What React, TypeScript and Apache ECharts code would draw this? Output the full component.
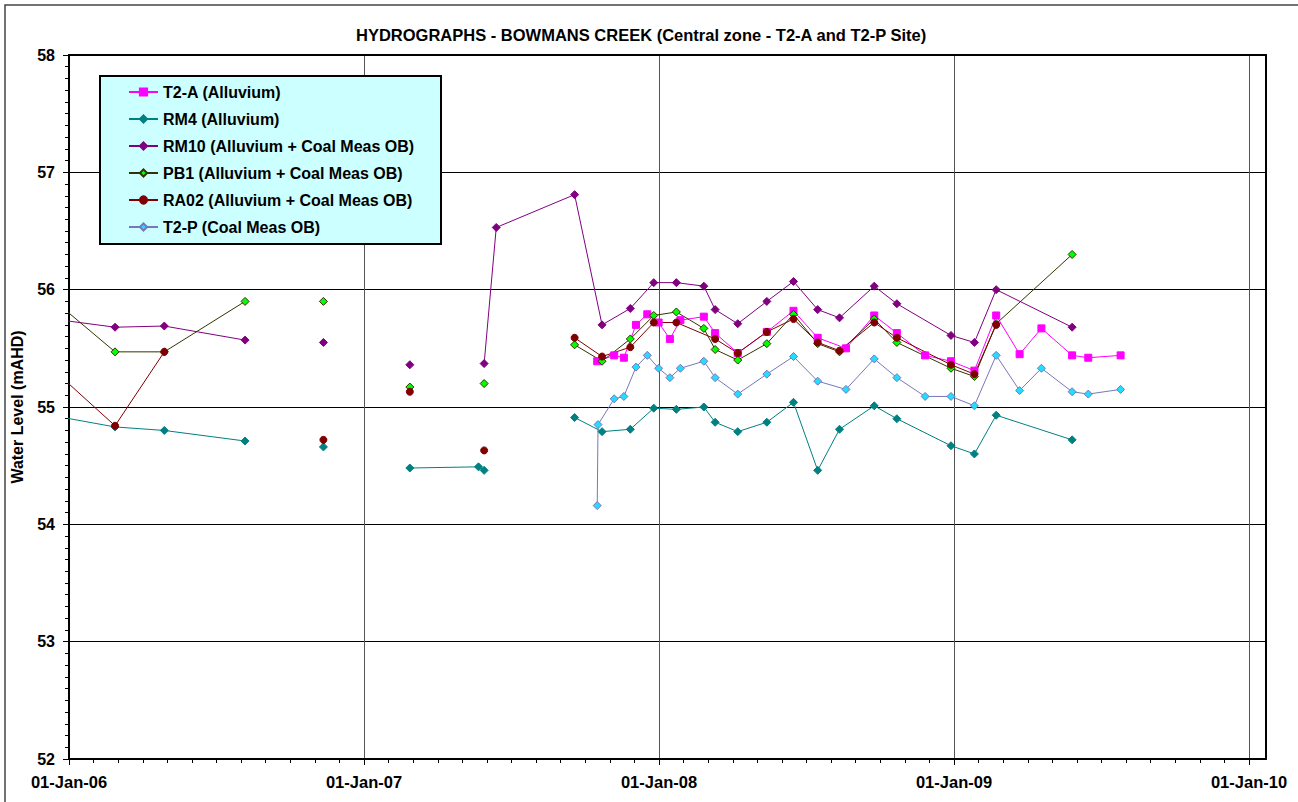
import React, { useEffect, useRef } from "react";
import * as echarts from "echarts";

const TITLE = "HYDROGRAPHS - BOWMANS CREEK (Central zone - T2-A and T2-P Site)";
const Y_NAME = "Water Level (mAHD)";
const X_START = "2006-01-01";
const X_END = "2010-01-01";
const X_TICK_LABELS = ["01-Jan-06", "01-Jan-07", "01-Jan-08", "01-Jan-09", "01-Jan-10"];
const Y_MIN = 52;
const Y_MAX = 58;
const SERIES_NAMES = [
  "T2-A (Alluvium)",
  "RM4 (Alluvium)",
  "RM10 (Alluvium + Coal Meas OB)",
  "PB1 (Alluvium + Coal Meas OB)",
  "RA02 (Alluvium + Coal Meas OB)",
  "T2-P (Coal Meas OB)",
];

type Pt = [string, number | null];

const T2A: Pt[] = [
  ["2007-10-17", 55.39], ["2007-11-07", 55.44], ["2007-11-19", 55.42], ["2007-12-04", 55.7],
  ["2007-12-18", 55.79], ["2008-01-01", 55.72], ["2008-01-15", 55.58], ["2008-01-28", 55.74],
  ["2008-02-26", 55.77], ["2008-03-11", 55.63], ["2008-04-08", 55.46], ["2008-05-14", 55.64],
  ["2008-06-16", 55.82], ["2008-07-16", 55.59], ["2008-08-20", 55.5], ["2008-09-24", 55.78],
  ["2008-10-22", 55.63], ["2008-11-26", 55.44], ["2008-12-28", 55.39], ["2009-01-26", 55.31],
  ["2009-02-22", 55.78], ["2009-03-23", 55.45], ["2009-04-19", 55.67], ["2009-05-27", 55.44],
  ["2009-06-16", 55.42], ["2009-07-26", 55.44],
];

const RM4: Pt[] = [
  ["2005-12-01", 54.94], ["2006-02-27", 54.83], ["2006-04-29", 54.8], ["2006-08-07", 54.71],
  ["2006-09-25", null], ["2006-11-12", 54.66], ["2007-01-05", null], ["2007-02-27", 54.48],
  ["2007-05-23", 54.49], ["2007-05-30", 54.46], ["2007-07-15", null], ["2007-09-19", 54.91],
  ["2007-10-23", 54.79], ["2007-11-27", 54.81], ["2007-12-26", 54.99], ["2008-01-23", 54.98],
  ["2008-02-26", 55.0], ["2008-03-11", 54.87], ["2008-04-08", 54.79], ["2008-05-14", 54.87],
  ["2008-06-16", 55.04], ["2008-07-16", 54.46], ["2008-08-12", 54.81], ["2008-09-24", 55.01],
  ["2008-10-22", 54.9], ["2008-12-28", 54.67], ["2009-01-26", 54.6], ["2009-02-22", 54.93],
  ["2009-05-27", 54.72],
];

const RM10: Pt[] = [
  ["2005-12-01", 55.76], ["2006-02-27", 55.68], ["2006-04-29", 55.69], ["2006-08-07", 55.57],
  ["2006-09-25", null], ["2006-11-12", 55.55], ["2007-01-05", null], ["2007-02-27", 55.36],
  ["2007-04-15", null], ["2007-05-30", 55.37], ["2007-06-14", 56.53], ["2007-09-19", 56.81],
  ["2007-10-23", 55.7], ["2007-11-27", 55.84], ["2007-12-26", 56.06], ["2008-01-23", 56.06],
  ["2008-02-26", 56.03], ["2008-03-11", 55.83], ["2008-04-08", 55.71], ["2008-05-14", 55.9],
  ["2008-06-16", 56.07], ["2008-07-16", 55.83], ["2008-08-12", 55.76], ["2008-09-24", 56.03],
  ["2008-10-22", 55.88], ["2008-12-28", 55.61], ["2009-01-26", 55.55], ["2009-02-22", 56.0],
  ["2009-05-27", 55.68],
];

const PB1: Pt[] = [
  ["2005-12-01", 55.98], ["2006-02-27", 55.47], ["2006-04-29", 55.47], ["2006-08-07", 55.9],
  ["2006-09-25", null], ["2006-11-12", 55.9], ["2007-01-05", null], ["2007-02-27", 55.17],
  ["2007-04-15", null], ["2007-05-30", 55.2], ["2007-07-15", null], ["2007-09-19", 55.53],
  ["2007-10-23", 55.39], ["2007-11-27", 55.58], ["2007-12-26", 55.78], ["2008-01-23", 55.81],
  ["2008-02-26", 55.67], ["2008-03-11", 55.49], ["2008-04-08", 55.4], ["2008-05-14", 55.54],
  ["2008-06-16", 55.79], ["2008-07-16", 55.54], ["2008-08-12", 55.47], ["2008-09-24", 55.75],
  ["2008-10-22", 55.55], ["2008-12-28", 55.33], ["2009-01-26", 55.26], ["2009-02-22", 55.71],
  ["2009-05-27", 56.3],
];

const RA02: Pt[] = [
  ["2005-12-01", 55.39], ["2006-02-27", 54.84], ["2006-04-29", 55.47], ["2006-08-07", null],
  ["2006-11-12", 54.72], ["2007-01-05", null], ["2007-02-27", 55.13], ["2007-04-15", null],
  ["2007-05-30", 54.63], ["2007-07-15", null], ["2007-09-19", 55.59], ["2007-10-23", 55.43],
  ["2007-11-27", 55.51], ["2007-12-26", 55.72], ["2008-01-23", 55.72], ["2008-03-11", 55.58],
  ["2008-04-08", 55.46], ["2008-05-14", 55.64], ["2008-06-16", 55.75], ["2008-07-16", 55.55],
  ["2008-08-12", 55.48], ["2008-09-24", 55.72], ["2008-10-22", 55.59], ["2008-12-28", 55.36],
  ["2009-01-26", 55.28], ["2009-02-22", 55.7],
];

const T2P: Pt[] = [
  ["2007-10-17", 54.16], ["2007-10-18", 54.85], ["2007-11-07", 55.07], ["2007-11-19", 55.09],
  ["2007-12-04", 55.34], ["2007-12-18", 55.44], ["2008-01-01", 55.33], ["2008-01-15", 55.25],
  ["2008-01-28", 55.33], ["2008-02-26", 55.39], ["2008-03-11", 55.25], ["2008-04-08", 55.11],
  ["2008-05-14", 55.28], ["2008-06-16", 55.43], ["2008-07-16", 55.22], ["2008-08-20", 55.15],
  ["2008-09-24", 55.41], ["2008-10-22", 55.25], ["2008-11-26", 55.09], ["2008-12-28", 55.09],
  ["2009-01-26", 55.01], ["2009-02-22", 55.44], ["2009-03-23", 55.14], ["2009-04-19", 55.33],
  ["2009-05-27", 55.13], ["2009-06-16", 55.11], ["2009-07-26", 55.15],
];

const SERIES_DATA = [T2A, RM4, RM10, PB1, RA02, T2P];

const STYLES = [
  { line: "#FF00FF", fill: "#FF00FF", border: "#FF00FF", symbol: "rect", size: 7 },
  { line: "#008080", fill: "#008080", border: "#008080", symbol: "diamond", size: 8 },
  { line: "#800080", fill: "#800080", border: "#800080", symbol: "diamond", size: 8 },
  { line: "#333300", fill: "#00FF00", border: "#333300", symbol: "diamond", size: 8 },
  { line: "#800000", fill: "#800000", border: "#800000", symbol: "circle", size: 7 },
  { line: "#7777BB", fill: "#22DDFF", border: "#7777BB", symbol: "diamond", size: 8 },
];

const FONT = '"Liberation Sans", Arial, Helvetica, sans-serif';
const DAY_MS = 86400000;
const parse = (s: string) => {
  const [y, m, d] = s.split("-").map(Number);
  return Date.UTC(y, m - 1, d);
};
const BASE = parse(X_START);
const toDay = (s: string) => (parse(s) - BASE) / DAY_MS;
const X_MAX = toDay(X_END);
const X_INTERVAL = X_MAX / (X_TICK_LABELS.length - 1);

export default function App() {
  const ref = useRef<HTMLDivElement>(null);

  useEffect(() => {
    if (!ref.current) return;
    const chart = echarts.init(ref.current, undefined, { renderer: "svg" });
    const blackLine = { show: true, onZero: false, lineStyle: { color: "#000", width: 2 } };
    const off = { show: false };
    const labelStyle = { color: "#000", fontSize: 16, fontWeight: "bold" as const, fontFamily: FONT };

    const option: any = {
      animation: false,
      backgroundColor: "#fff",
      title: {
        text: TITLE,
        left: 356,
        top: 26,
        padding: 0,
        textStyle: { ...labelStyle, fontSize: 16.5 },
      },
      legend: {
        orient: "vertical",
        left: 128,
        top: 83,
        padding: 0,
        itemWidth: 29,
        itemHeight: 9,
        itemGap: 9,
        selectedMode: false,
        z: 6,
        data: SERIES_NAMES,
        textStyle: { ...labelStyle, lineHeight: 18 },
      },
      graphic: {
        elements: [
          {
            type: "rect",
            z: 0,
            silent: true,
            shape: { x: 5, y: 5, width: 1400, height: 1000 },
            style: { fill: "none", stroke: "#444", lineWidth: 1.5 },
          },
          {
            type: "rect",
            z: 4,
            silent: true,
            shape: { x: 100, y: 76, width: 341, height: 168 },
            style: { fill: "#CCFFFF", stroke: "#000", lineWidth: 2 },
          },
        ],
      },
      grid: [
        { left: 69, top: 55, width: 1180, height: 704 },
        { left: 1249, top: 55, width: 17, height: 704 },
      ],
      xAxis: [
        {
          gridIndex: 0,
          type: "value",
          position: "bottom",
          min: 0,
          max: X_MAX,
          interval: X_INTERVAL,
          axisLine: blackLine,
          axisTick: { show: true, length: 6, lineStyle: { color: "#000", width: 1 } },
          minorTick: { show: true, splitNumber: 12, length: 4, lineStyle: { color: "#000", width: 1 } },
          axisLabel: {
            ...labelStyle,
            fontSize: 16.5,
            margin: 14,
            formatter: (v: number) => X_TICK_LABELS[Math.round(v / X_INTERVAL)] ?? "",
          },
          splitLine: { show: true, lineStyle: { color: "#555", width: 1 } },
        },
        {
          gridIndex: 1, type: "value", position: "bottom", min: 0, max: 1,
          axisLine: blackLine, axisTick: off, axisLabel: off, splitLine: off,
        },
        {
          gridIndex: 0, type: "value", position: "top", min: 0, max: X_MAX,
          axisLine: blackLine, axisTick: off, axisLabel: off, splitLine: off,
        },
        {
          gridIndex: 1, type: "value", position: "top", min: 0, max: 1,
          axisLine: blackLine, axisTick: off, axisLabel: off, splitLine: off,
        },
      ],
      yAxis: [
        {
          gridIndex: 0,
          type: "value",
          min: Y_MIN,
          max: Y_MAX,
          interval: 1,
          name: Y_NAME,
          nameLocation: "middle",
          nameGap: 44,
          nameTextStyle: { ...labelStyle },
          axisLine: blackLine,
          axisTick: { show: true, length: 6, lineStyle: { color: "#000", width: 1 } },
          minorTick: { show: true, splitNumber: 10, length: 4, lineStyle: { color: "#000", width: 1 } },
          axisLabel: { ...labelStyle, margin: 14 },
          splitLine: { show: true, lineStyle: { color: "#000", width: 1 } },
        },
        {
          gridIndex: 1,
          type: "value",
          position: "right",
          min: Y_MIN,
          max: Y_MAX,
          interval: 1,
          axisLine: blackLine,
          axisTick: off,
          axisLabel: off,
          splitLine: { show: true, lineStyle: { color: "#000", width: 1 } },
        },
      ],
      series: SERIES_NAMES.map((name, i) => {
        const st = STYLES[i];
        return {
          name,
          type: "line",
          xAxisIndex: 0,
          yAxisIndex: 0,
          clip: true,
          connectNulls: false,
          symbol: st.symbol,
          symbolSize: st.size,
          showSymbol: true,
          lineStyle: { color: st.line, width: 1 },
          itemStyle: { color: st.fill, borderColor: st.border, borderWidth: 1 },
          emphasis: { disabled: true },
          data: SERIES_DATA[i].map(([d, v]) => [toDay(d), v === null ? "-" : v]),
        };
      }),
    };

    chart.setOption(option);
    return () => chart.dispose();
  }, []);

  return (
    <div
      ref={ref}
      style={{ position: "absolute", left: 0, top: 0, width: 1298, height: 802, background: "#fff" }}
    />
  );
}
